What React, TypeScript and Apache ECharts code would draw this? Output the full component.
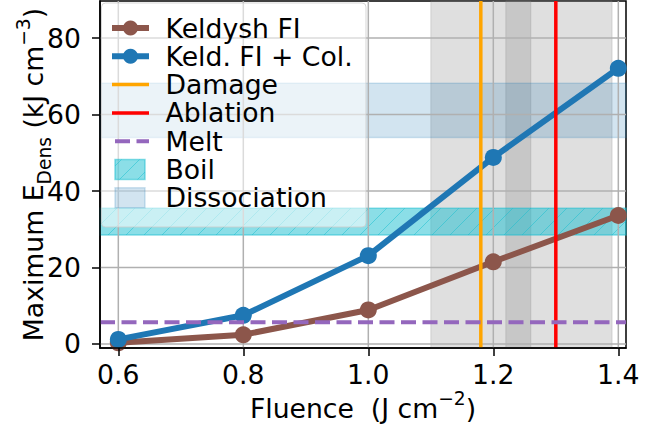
import React, { useEffect, useRef } from "react";
import * as echarts from "echarts";

// Peak deposited energy density vs. laser fluence
const fluence = [0.6, 0.8, 1.0, 1.2, 1.4];
const keldyshFI = [0.3, 2.4, 8.9, 21.5, 33.6];
const keldyshFICol = [1.2, 7.5, 23.1, 48.8, 72.1];

// Experimental thresholds (fluence, J cm^-2) and material energies (kJ cm^-3)
const damageFluence = 1.18;
const ablationFluence = 1.3;
const meltEnergy = 5.7;
const boilRange = [28.5, 35.5];
const dissociationRange = [54.0, 68.2];
const thresholdWindows = [
  [1.1, 1.26],
  [1.22, 1.39],
];

const xTicks = [0.6, 0.8, 1.0, 1.2, 1.4];
const yTicks = [0, 20, 40, 60, 80];

const seriesNames = [
  "Keldysh FI",
  "Keld. FI + Col.",
  "Damage",
  "Ablation",
  "Melt",
  "Boil",
  "Dissociation",
];

const X_MIN = 0.5707;
const X_MAX = 1.4123;
const Y_MIN = -1.05;
const Y_MAX = 89.7;

const FONT = "DejaVu Sans";
const FS = 26.67;
const FS_SMALL = 18.7;
const BROWN = "#8c564b";
const BLUE = "#1f77b4";
const ORANGE = "#ffa500";
const RED = "#ff0000";
const PURPLE = "#9467bd";
const BOIL_FILL = "rgba(23,190,207,0.5)";
const BOIL_EDGE = "rgba(23,190,207,0.5)";
const DISS_FILL = "rgba(31,119,180,0.2)";
const GRAY_FILL = "rgba(128,128,128,0.25)";
const GRID_COLOR = "#b0b0b0";
const LEGEND_Z = 100;

// 45° "/" hatching clipped to a rectangle
function hatch(x0: number, yTop: number, x1: number, yBot: number, step: number, stroke: string, z?: number) {
  const h = yBot - yTop;
  const out: any[] = [];
  const start = Math.floor((x0 - h) / step) * step;
  for (let c = start; c < x1; c += step) {
    const lo = Math.max(0, x0 - c);
    const hi = Math.min(h, x1 - c);
    if (hi > lo) {
      const el: any = {
        type: "line",
        shape: { x1: c + lo, y1: yBot - lo, x2: c + hi, y2: yBot - hi },
        style: { stroke, lineWidth: 1 },
      };
      if (z !== undefined) el.z = z;
      out.push(el);
    }
  }
  return out;
}

function buildLegend() {
  const w = 264.5;
  const h = 224;
  const first = 25;
  const step = 28.3;
  const iconL = 10.5;
  const iconR = 47.5;
  const textX = 64;
  const z = LEGEND_Z;
  const children: any[] = [
    {
      type: "rect",
      z,
      shape: { x: 0, y: 0, width: w, height: h, r: 4 },
      style: { fill: "rgba(255,255,255,0.55)", stroke: "rgba(204,204,204,0.8)", lineWidth: 1 },
    },
  ];
  const icons: ((cy: number) => any[])[] = [
    (cy) => [
      { type: "line", z: z + 1, shape: { x1: iconL, y1: cy, x2: iconR, y2: cy }, style: { stroke: BROWN, lineWidth: 6 } },
      { type: "circle", z: z + 2, shape: { cx: (iconL + iconR) / 2, cy, r: 7.5 }, style: { fill: BROWN } },
    ],
    (cy) => [
      { type: "line", z: z + 1, shape: { x1: iconL, y1: cy, x2: iconR, y2: cy }, style: { stroke: BLUE, lineWidth: 6 } },
      { type: "circle", z: z + 2, shape: { cx: (iconL + iconR) / 2, cy, r: 7.5 }, style: { fill: BLUE } },
    ],
    (cy) => [{ type: "line", z: z + 1, shape: { x1: iconL, y1: cy, x2: iconR, y2: cy }, style: { stroke: ORANGE, lineWidth: 3.5 } }],
    (cy) => [{ type: "line", z: z + 1, shape: { x1: iconL, y1: cy, x2: iconR, y2: cy }, style: { stroke: RED, lineWidth: 3.5 } }],
    (cy) => [
      {
        type: "line",
        z: z + 1,
        shape: { x1: iconL + 3, y1: cy, x2: iconR, y2: cy },
        style: { stroke: PURPLE, lineWidth: 4, lineDash: [15, 6.5] },
      },
    ],
    (cy) => [
      { type: "rect", z: z + 1, shape: { x: 13.5, y: cy - 10, width: 30, height: 20 }, style: { fill: BOIL_FILL, stroke: BOIL_EDGE, lineWidth: 1.5 } },
      ...hatch(13.5, cy - 10, 43.5, cy + 10, 18, BOIL_EDGE, z + 2),
    ],
    (cy) => [
      { type: "rect", z: z + 1, shape: { x: 13.5, y: cy - 10, width: 30, height: 20 }, style: { fill: DISS_FILL, stroke: DISS_FILL, lineWidth: 1.5 } },
    ],
  ];
  seriesNames.forEach((name, i) => {
    const cy = first + i * step;
    children.push(...icons[i](cy));
    children.push({
      type: "text",
      z: z + 1,
      x: textX,
      y: cy,
      style: {
        text: name,
        fontSize: FS,
        fontFamily: FONT,
        fill: "#000",
        textAlign: "left",
        textVerticalAlign: "middle",
        align: "left",
        verticalAlign: "middle",
      },
    });
  });
  return { type: "group", x: 101.5, y: 3, z, silent: true, children };
}

export default function App() {
  const ref = useRef<HTMLDivElement>(null);

  useEffect(() => {
    if (!ref.current) return;
    const chart = echarts.init(ref.current, undefined, { renderer: "svg" });

    const yPix = (api: any, v: number) => api.coord([X_MIN, v])[1];
    const xPix = (api: any, v: number) => api.coord([v, 0])[0];

    const mainText = { fontSize: FS, lineHeight: 27, fontFamily: FONT, color: "#000", padding: [6, 0, 0, 0], verticalAlign: "top" };
    const supText = { fontSize: FS_SMALL, lineHeight: 19, fontFamily: FONT, color: "#000", verticalAlign: "top" };
    const subText = { fontSize: FS_SMALL, lineHeight: 19, fontFamily: FONT, color: "#000", padding: [21, 0, 0, 0], verticalAlign: "top" };

    const option: any = {
      animation: false,
      textStyle: { fontFamily: FONT },
      grid: {
        left: 100,
        right: 39,
        top: 1,
        bottom: 80,
        show: true,
        borderColor: "#000",
        borderWidth: 1.5,
        backgroundColor: "#fff",
        containLabel: false,
        outerBoundsMode: "none",
      },
      xAxis: {
        type: "value",
        min: X_MIN,
        max: X_MAX,
        z: 5,
        name: "{t|Fluence  (J cm}{sup|−2}{t|)}",
        nameLocation: "middle",
        nameGap: 41,
        nameMoveOverlap: false,
        nameTextStyle: { rich: { t: mainText, sup: supText } },
        axisLine: { show: true, onZero: false, lineStyle: { color: "#000", width: 1.5 } },
        axisTick: { show: true, length: 8, lineStyle: { color: "#000", width: 1.5 }, customValues: xTicks },
        axisLabel: {
          customValues: xTicks,
          formatter: (v: number) => v.toFixed(1),
          margin: 13,
          fontSize: FS,
          fontFamily: FONT,
          color: "#000",
        },
        splitLine: { show: false },
      },
      yAxis: {
        type: "value",
        min: Y_MIN,
        max: Y_MAX,
        z: 5,
        name: "{t|Maximum E}{sub|Dens}{t| (kJ cm}{sup|−3}{t|)}",
        nameLocation: "middle",
        nameGap: 59,
        nameMoveOverlap: false,
        nameTextStyle: { rich: { t: mainText, sub: subText, sup: supText } },
        axisLine: { show: true, onZero: false, lineStyle: { color: "#000", width: 1.5 } },
        axisTick: { show: true, length: 8, lineStyle: { color: "#000", width: 1.5 }, customValues: yTicks },
        axisLabel: {
          customValues: yTicks,
          formatter: (v: number) => String(Math.round(v)),
          margin: 19,
          fontSize: FS,
          fontFamily: FONT,
          color: "#000",
        },
        splitLine: { show: false },
      },
      series: [
        {
          // shaded fluence windows
          type: "custom",
          name: "windows",
          z: 1,
          silent: true,
          data: thresholdWindows.map((w) => [w[0], w[1]]),
          renderItem: (params: any, api: any) => {
            const cs = params.coordSys;
            const a = xPix(api, api.value(0));
            const b = xPix(api, api.value(1));
            return {
              type: "rect",
              shape: { x: a, y: cs.y, width: b - a, height: cs.height },
              style: { fill: GRAY_FILL, stroke: GRAY_FILL, lineWidth: 1 },
            };
          },
        },
        {
          type: "custom",
          name: seriesNames[6],
          z: 1,
          silent: true,
          data: [[dissociationRange[0], dissociationRange[1]]],
          renderItem: (params: any, api: any) => {
            const cs = params.coordSys;
            const y0 = yPix(api, api.value(1));
            const y1 = yPix(api, api.value(0));
            return {
              type: "rect",
              shape: { x: cs.x, y: y0, width: cs.width, height: y1 - y0 },
              style: { fill: DISS_FILL, stroke: DISS_FILL, lineWidth: 1.5 },
            };
          },
        },
        {
          type: "custom",
          name: seriesNames[5],
          z: 1,
          silent: true,
          data: [[boilRange[0], boilRange[1]]],
          renderItem: (params: any, api: any) => {
            const cs = params.coordSys;
            const y0 = yPix(api, api.value(1));
            const y1 = yPix(api, api.value(0));
            return {
              type: "group",
              children: [
                {
                  type: "rect",
                  shape: { x: cs.x, y: y0, width: cs.width, height: y1 - y0 },
                  style: { fill: BOIL_FILL, stroke: BOIL_EDGE, lineWidth: 1.5 },
                },
                ...hatch(cs.x, y0, cs.x + cs.width, y1, 18, BOIL_EDGE),
              ],
            };
          },
        },
        {
          // vertical grid lines
          type: "custom",
          name: "xgrid",
          z: 1.5,
          silent: true,
          data: xTicks.map((v) => [v, 0]),
          renderItem: (params: any, api: any) => {
            const cs = params.coordSys;
            const x = xPix(api, api.value(0));
            return {
              type: "line",
              shape: { x1: x, y1: cs.y, x2: x, y2: cs.y + cs.height },
              style: { stroke: GRID_COLOR, lineWidth: 1.5 },
            };
          },
        },
        {
          // horizontal grid lines
          type: "custom",
          name: "ygrid",
          z: 1.5,
          silent: true,
          data: yTicks.map((v) => [X_MIN, v]),
          renderItem: (params: any, api: any) => {
            const cs = params.coordSys;
            const y = yPix(api, api.value(1));
            return {
              type: "line",
              shape: { x1: cs.x, y1: y, x2: cs.x + cs.width, y2: y },
              style: { stroke: GRID_COLOR, lineWidth: 1.5 },
            };
          },
        },
        {
          type: "line",
          name: seriesNames[0],
          z: 3,
          data: fluence.map((x, i) => [x, keldyshFI[i]]),
          symbol: "circle",
          symbolSize: 17,
          showAllSymbol: true,
          lineStyle: { color: BROWN, width: 6 },
          itemStyle: { color: BROWN },
          emphasis: { disabled: true },
        },
        {
          type: "line",
          name: seriesNames[1],
          z: 3,
          data: fluence.map((x, i) => [x, keldyshFICol[i]]),
          symbol: "circle",
          symbolSize: 17,
          showAllSymbol: true,
          lineStyle: { color: BLUE, width: 6 },
          itemStyle: { color: BLUE },
          emphasis: { disabled: true },
        },
        {
          type: "custom",
          name: seriesNames[2],
          z: 4,
          silent: true,
          data: [[damageFluence, 0]],
          renderItem: (params: any, api: any) => {
            const cs = params.coordSys;
            const x = xPix(api, api.value(0));
            return {
              type: "line",
              shape: { x1: x, y1: cs.y, x2: x, y2: cs.y + cs.height },
              style: { stroke: ORANGE, lineWidth: 3.5 },
            };
          },
        },
        {
          type: "custom",
          name: seriesNames[3],
          z: 4,
          silent: true,
          data: [[ablationFluence, 0]],
          renderItem: (params: any, api: any) => {
            const cs = params.coordSys;
            const x = xPix(api, api.value(0));
            return {
              type: "line",
              shape: { x1: x, y1: cs.y, x2: x, y2: cs.y + cs.height },
              style: { stroke: RED, lineWidth: 3.5 },
            };
          },
        },
        {
          type: "custom",
          name: seriesNames[4],
          z: 4,
          silent: true,
          data: [[X_MIN, meltEnergy]],
          renderItem: (params: any, api: any) => {
            const cs = params.coordSys;
            const y = yPix(api, api.value(1));
            return {
              type: "line",
              shape: { x1: cs.x, y1: y, x2: cs.x + cs.width, y2: y },
              style: { stroke: PURPLE, lineWidth: 4, lineDash: [15, 6.5] },
            };
          },
        },
      ],
      graphic: [buildLegend()],
    };

    chart.setOption(option);
    return () => chart.dispose();
  }, []);

  return (
    <div
      ref={ref}
      style={{ position: "fixed", left: 0, top: 0, width: 665, height: 428, background: "#fff" }}
    />
  );
}
